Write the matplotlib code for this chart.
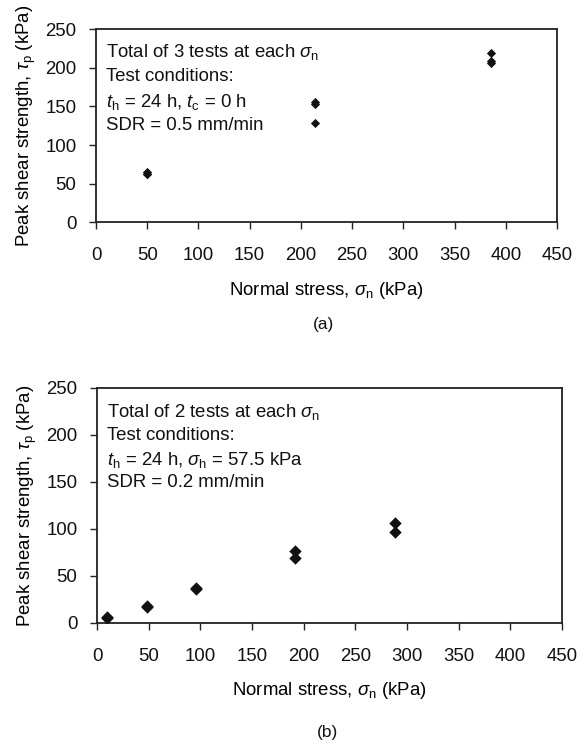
import matplotlib
matplotlib.use("Agg")
import matplotlib.pyplot as plt

plt.rcParams['font.family'] = ['Liberation Sans', 'DejaVu Sans']
plt.rcParams['mathtext.fontset'] = 'custom'
plt.rcParams['mathtext.rm'] = 'Liberation Sans'
plt.rcParams['mathtext.it'] = 'Liberation Sans:italic'
plt.rcParams['mathtext.bf'] = 'Liberation Sans:bold'

# Panel (a): 3 tests at each normal stress
a_sigma = [50, 50, 50, 214, 214, 214, 386, 386, 386]
a_tau = [62, 63, 65, 153, 156, 129, 219, 209, 206]

# Panel (b): 2 tests at each normal stress
b_sigma = [10, 10, 48, 48, 96, 96, 192, 192, 288, 288]
b_tau = [5, 6, 17, 18, 36, 37, 69, 77, 97, 106]

x_ticks = [0, 50, 100, 150, 200, 250, 300, 350, 400, 450]
y_ticks = [0, 50, 100, 150, 200, 250]

a_lines = [r'Total of 3 tests at each $\sigma_\mathrm{n}$',
           'Test conditions:',
           r'$t_\mathrm{h}$ = 24 h, $t_\mathrm{c}$ = 0 h',
           'SDR = 0.5 mm/min']
b_lines = [r'Total of 2 tests at each $\sigma_\mathrm{n}$',
           'Test conditions:',
           r'$t_\mathrm{h}$ = 24 h, $\sigma_\mathrm{h}$ = 57.5 kPa',
           'SDR = 0.2 mm/min']

FS = 13.4
fig = plt.figure(figsize=(5.84, 7.46), dpi=100)
ax1 = fig.add_axes([0.1644, 0.702, 0.7894, 0.259])
ax2 = fig.add_axes([0.1661, 0.1649, 0.7962, 0.315])

def style(ax):
    ax.set_xlim(0, 450)
    ax.set_ylim(0, 250)
    ax.set_xticks(x_ticks)
    ax.set_yticks(y_ticks)
    for s in ax.spines.values():
        s.set_linewidth(1.3)
        s.set_color('#222222')
    ax.tick_params(direction='out', length=5, width=1.0, color='#222222',
                   labelsize=FS, colors='#111111')
    ax.tick_params(axis='x', pad=13)
    ax.tick_params(axis='y', pad=9)
    ax.set_xlabel(r'Normal stress, $\sigma_\mathrm{n}$ (kPa)', fontsize=FS,
                  labelpad=11)
    ax.set_ylabel(r'Peak shear strength, $\tau_\mathrm{p}$ (kPa)', fontsize=FS,
                  labelpad=5)

style(ax1)
style(ax2)

ax1.scatter(a_sigma, a_tau, marker='D', s=22, color='#111111', zorder=3,
            linewidths=0)
ax2.scatter(b_sigma, b_tau, marker='D', s=40, color='#111111', zorder=3,
            linewidths=0)

for y, t in zip([0.883, 0.753, 0.624, 0.503], a_lines):
    ax1.text(0.022, y, t, transform=ax1.transAxes, fontsize=FS, va='center',
             ha='left', color='#111111')
for y, t in zip([0.899, 0.796, 0.694, 0.596], b_lines):
    ax2.text(0.0215, y, t, transform=ax2.transAxes, fontsize=FS, va='center',
             ha='left', color='#111111')

fig.text(323 / 584, 1 - 325 / 746, '(a)', fontsize=FS - 1, ha='center',
         va='center', color='#111111')
fig.text(328 / 584, 1 - 733 / 746, '(b)', fontsize=FS - 1, ha='center',
         va='center', color='#111111')

fig.savefig('out.png', dpi=100)
